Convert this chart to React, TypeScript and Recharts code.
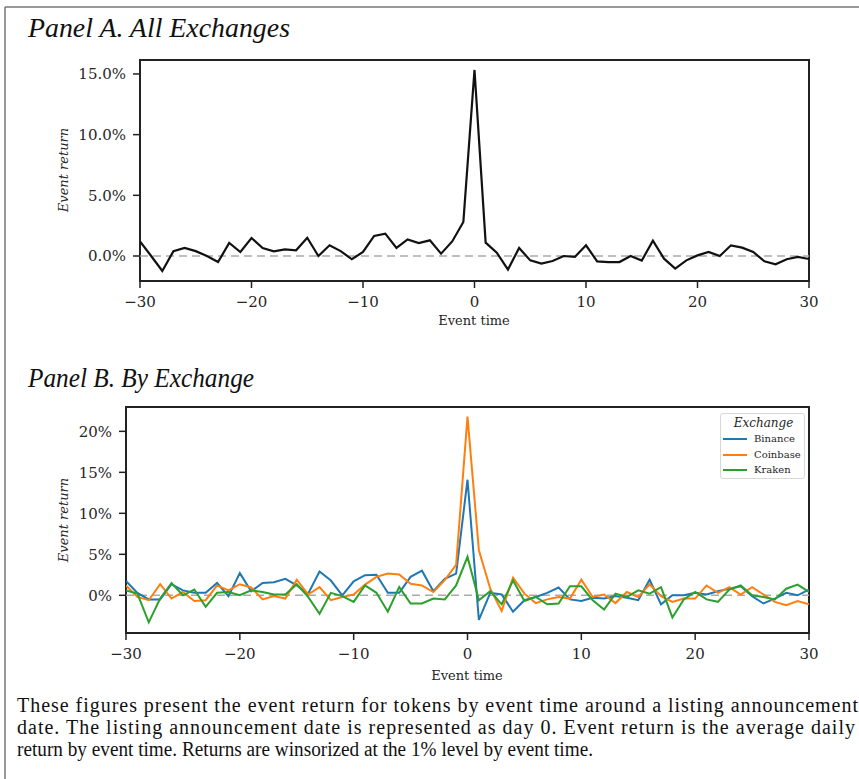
import React from 'react';
import { LineChart, Line, XAxis, YAxis, ReferenceLine, ReferenceArea, Legend } from 'recharts';

const eventTimes = [-30, -29, -28, -27, -26, -25, -24, -23, -22, -21, -20, -19, -18, -17, -16, -15, -14, -13, -12, -11, -10, -9, -8, -7, -6, -5, -4, -3, -2, -1, 0, 1, 2, 3, 4, 5, 6, 7, 8, 9, 10, 11, 12, 13, 14, 15, 16, 17, 18, 19, 20, 21, 22, 23, 24, 25, 26, 27, 28, 29, 30];

const allExchanges = [1.2, 0.0, -1.23, 0.4, 0.66, 0.4, 0.0, -0.5, 1.07, 0.33, 1.48, 0.66, 0.38, 0.55, 0.47, 1.5, 0.0, 0.88, 0.4, -0.27, 0.33, 1.65, 1.84, 0.66, 1.37, 1.07, 1.29, 0.19, 1.2, 2.8, 15.33, 1.1, 0.27, -1.12, 0.66, -0.36, -0.63, -0.41, 0.0, -0.08, 0.88, -0.44, -0.5, -0.5, 0.0, -0.38, 1.26, -0.22, -1.04, -0.36, 0.05, 0.33, 0.0, 0.88, 0.69, 0.33, -0.44, -0.69, -0.27, -0.08, -0.25];

const binance = [1.75, 0.3, -0.5, -0.5, 1.35, 0.6, 0.3, 0.3, 1.5, -0.1, 2.7, 0.5, 1.5, 1.6, 2.0, 1.2, 0.2, 2.9, 1.8, 0.0, 1.7, 2.45, 2.5, 0.3, 0.3, 2.25, 3.0, 0.5, 2.0, 2.65, 14.1, -3.0, 0.3, 0.1, -2.0, -0.6, -0.2, 0.3, 0.95, -0.5, -0.7, -0.3, -0.4, -0.1, -0.3, -0.6, 1.9, -1.1, 0.0, 0.0, 0.3, 0.1, 0.5, 0.8, 1.1, -0.1, -1.0, -0.4, 0.3, 0.0, 0.7];

const coinbase = [1.2, -0.2, -0.6, 1.35, -0.4, 0.4, -0.7, -0.6, 1.2, 0.6, 1.35, 0.95, -0.5, -0.1, -0.4, 1.9, 0.1, 1.0, -0.6, -0.2, 0.1, 1.3, 2.25, 2.65, 2.55, 1.4, 1.2, 0.4, 1.85, 3.7, 21.8, 5.5, 0.8, -1.9, 2.15, 0.2, -0.95, -0.5, -0.2, -0.4, 1.9, -0.2, 0.1, -0.95, 0.4, -0.2, 1.35, -0.1, -0.8, -0.4, -0.4, 1.2, 0.3, 1.0, 0.1, 1.0, 0.1, -0.8, -1.2, -0.7, -1.1];

const kraken = [0.6, 0.2, -3.3, -0.4, 1.5, 0.0, 0.7, -1.4, 0.3, 0.4, 0.0, 0.6, 0.4, 0.1, 0.1, 1.35, -0.2, -2.25, 0.3, -0.1, -0.8, 1.2, 0.3, -2.0, 1.0, -1.0, -1.0, -0.4, -0.5, 1.2, 4.7, -0.6, 0.5, -1.1, 1.8, -0.7, -0.2, -1.1, -1.0, 1.1, 1.1, -0.6, -1.75, 0.2, -0.2, 0.6, 0.2, 1.0, -2.7, -0.5, 0.4, -0.5, -0.8, 0.7, 1.2, 0.0, -0.2, -0.5, 0.8, 1.3, 0.4];

const xTicks = [-30, -20, -10, 0, 10, 20, 30];
const panelAYTicks = [0, 5, 10, 15];
const panelBYTicks = [0, 5, 10, 15, 20];
const exchangeNames = ['Binance', 'Coinbase', 'Kraken'];
const exchangeColors = ['#1f77b4', '#ff7f0e', '#2ca02c'];

const panelATitle = 'Panel A. All Exchanges';
const panelBTitle = 'Panel B. By Exchange';
const captionLines = [
  'These figures present the event return for tokens by event time around a listing announcement',
  'date. The listing announcement date is represented as day 0. Event return is the average daily',
  'return by event time. Returns are winsorized at the 1% level by event time.',
];

const dataA = eventTimes.map((t, i) => ({ t, all: allExchanges[i] }));
const dataB = eventTimes.map((t, i) => ({ t, Binance: binance[i], Coinbase: coinbase[i], Kraken: kraken[i] }));

const TEXT = '#262626';
const tickStyle = { fill: TEXT, fontSize: 15, fontFamily: 'DejaVu Serif' };
const minusFmt = (v: number) => (v < 0 ? `\u2212${Math.abs(v)}` : `${v}`);

const LegendBox = (props: any) => {
  const payload = props.payload || [];
  return (
    <div
      style={{
        width: 85,
        height: 66,
        boxSizing: 'border-box',
        border: '1px solid #d8d8d8',
        borderRadius: 3,
        background: 'rgba(255,255,255,0.85)',
        fontFamily: 'DejaVu Serif',
        color: TEXT,
        position: 'relative',
      }}
    >
      <div style={{ position: 'absolute', left: 0, width: 85, top: 2, textAlign: 'center', fontStyle: 'italic', fontSize: 12, lineHeight: '14px' }}>
        Exchange
      </div>
      {payload.map((p: any, i: number) => (
        <div key={p.value} style={{ position: 'absolute', left: 2, top: 18 + i * 15.5, height: 14, display: 'flex', alignItems: 'center' }}>
          <div style={{ width: 24, height: 2, background: p.color }} />
          <span style={{ marginLeft: 7, fontSize: 10, lineHeight: '14px' }}>{p.value}</span>
        </div>
      ))}
    </div>
  );
};

export default function App() {
  return (
    <div style={{ position: 'absolute', left: 0, top: 0, width: 859, height: 779, background: '#fff', overflow: 'hidden' }}>
      <div style={{ position: 'absolute', left: 0, top: 40 }}>
        <LineChart width={859} height={300} data={dataA} margin={{ top: 20, right: 50, left: 60, bottom: 14 }}>
          <XAxis
            type="number"
            dataKey="t"
            domain={[-30, 30]}
            ticks={xTicks}
            allowDataOverflow
            axisLine={false}
            tickLine={{ stroke: '#222', strokeWidth: 1.5 }}
            tickSize={7}
            tickMargin={8}
            height={45}
            tick={tickStyle}
            tickFormatter={minusFmt}
            interval={0}
          />
          <YAxis
            type="number"
            domain={[-2.06, 16.15]}
            ticks={panelAYTicks}
            allowDataOverflow
            axisLine={false}
            tickLine={{ stroke: '#222', strokeWidth: 1.5 }}
            tickSize={7}
            tickMargin={7}
            width={80}
            tick={tickStyle}
            tickFormatter={(v: number) => `${v.toFixed(1)}%`}
            interval={0}
          />
          <ReferenceLine y={0} stroke="#aaaaaa" strokeWidth={1.5} strokeDasharray="8 5" />
          <Line type="linear" dataKey="all" stroke="#111" strokeWidth={2.2} dot={false} isAnimationActive={false} />
          <ReferenceArea x1={-30} x2={30} y1={-2.06} y2={16.15} fill="none" stroke="#222" strokeWidth={2} ifOverflow="visible" />
        </LineChart>
      </div>

      <div style={{ position: 'absolute', left: 0, top: 380 }}>
        <LineChart width={859} height={300} data={dataB} margin={{ top: 27, right: 50, left: 46, bottom: 12 }}>
          <XAxis
            type="number"
            dataKey="t"
            domain={[-30, 30]}
            ticks={xTicks}
            allowDataOverflow
            axisLine={false}
            tickLine={{ stroke: '#222', strokeWidth: 1.5 }}
            tickSize={7}
            tickMargin={8}
            height={35}
            tick={tickStyle}
            tickFormatter={minusFmt}
            interval={0}
          />
          <YAxis
            type="number"
            domain={[-4.6, 22.97]}
            ticks={panelBYTicks}
            allowDataOverflow
            axisLine={false}
            tickLine={{ stroke: '#222', strokeWidth: 1.5 }}
            tickSize={7}
            tickMargin={7}
            width={80}
            tick={tickStyle}
            tickFormatter={(v: number) => `${v}%`}
            interval={0}
          />
          <ReferenceLine y={0} stroke="#aaaaaa" strokeWidth={1.5} strokeDasharray="8 5" />
          {exchangeNames.map((name, i) => (
            <Line key={name} type="linear" dataKey={name} name={name} stroke={exchangeColors[i]} strokeWidth={2} dot={false} isAnimationActive={false} />
          ))}
          <ReferenceArea x1={-30} x2={30} y1={-4.6} y2={22.97} fill="none" stroke="#222" strokeWidth={2} ifOverflow="visible" />
          <Legend
            layout="vertical"
            align="center"
            verticalAlign="middle"
            content={LegendBox}
            wrapperStyle={{ position: 'absolute', left: 720, top: 33, width: 85, height: 66 }}
          />
        </LineChart>
      </div>

      <svg width={859} height={779} style={{ position: 'absolute', left: 0, top: 0, pointerEvents: 'none' }}>
        <line x1={5} y1={7} x2={5} y2={779} stroke="#777" strokeWidth={1.5} />
        <line x1={5} y1={7} x2={859} y2={7} stroke="#777" strokeWidth={1.5} />
        <text x={28} y={37} fontFamily="Liberation Serif" fontStyle="italic" fontSize={26.5} fill="#111" textLength={262} lengthAdjust="spacingAndGlyphs">
          {panelATitle}
        </text>
        <text x={28} y={387} fontFamily="Liberation Serif" fontStyle="italic" fontSize={26.5} fill="#111" textLength={226} lengthAdjust="spacingAndGlyphs">
          {panelBTitle}
        </text>
        <text x={63} y={170} transform="rotate(-90 63 170)" textAnchor="middle" dominantBaseline="central" fontFamily="DejaVu Serif" fontStyle="italic" fontSize={13} fill={TEXT}>
          Event return
        </text>
        <text x={474} y={320} textAnchor="middle" dominantBaseline="central" fontFamily="DejaVu Serif" fontSize={13} fill={TEXT}>
          Event time
        </text>
        <text x={63} y={520} transform="rotate(-90 63 520)" textAnchor="middle" dominantBaseline="central" fontFamily="DejaVu Serif" fontStyle="italic" fontSize={13} fill={TEXT}>
          Event return
        </text>
        <text x={467} y={675} textAnchor="middle" dominantBaseline="central" fontFamily="DejaVu Serif" fontSize={13} fill={TEXT}>
          Event time
        </text>
        <text x={17} y={712} fontFamily="Liberation Serif" fontSize={20} fill="#111" textLength={841} lengthAdjust="spacing">
          {captionLines[0]}
        </text>
        <text x={17} y={734} fontFamily="Liberation Serif" fontSize={20} fill="#111" textLength={838} lengthAdjust="spacing">
          {captionLines[1]}
        </text>
        <text x={17} y={756} fontFamily="Liberation Serif" fontSize={20} fill="#111" textLength={576} lengthAdjust="spacingAndGlyphs">
          {captionLines[2]}
        </text>
      </svg>
    </div>
  );
}
